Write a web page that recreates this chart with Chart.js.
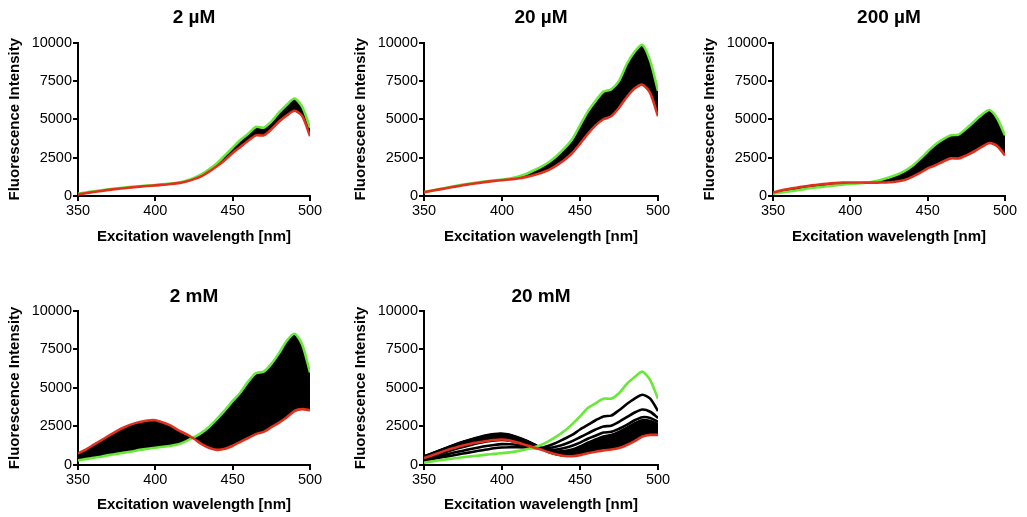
<!DOCTYPE html>
<html>
<head>
<meta charset="utf-8">
<script src="https://cdn.jsdelivr.net/npm/chart.js@4.4.1/dist/chart.umd.min.js"></script>
<style>
  html, body { margin: 0; padding: 0; background: #fff; }
  body { width: 1027px; height: 517px; position: relative; overflow: hidden; }
  .panel { position: absolute; }
</style>
</head>
<body>
<div class="panel" style="left:0px;top:0px"><canvas id="p1" width="330" height="255"></canvas></div>
<div class="panel" style="left:346px;top:0px"><canvas id="p2" width="332" height="255"></canvas></div>
<div class="panel" style="left:695px;top:0px"><canvas id="p3" width="330" height="255"></canvas></div>
<div class="panel" style="left:0px;top:262px"><canvas id="p4" width="330" height="255"></canvas></div>
<div class="panel" style="left:346px;top:262px"><canvas id="p5" width="332" height="255"></canvas></div>
<script>
// --- data (excitation scans, start = green, end = red) ---
const wavelengths = [350, 355, 360, 365, 370, 375, 380, 385, 390, 395, 400, 405, 410, 415, 420, 425, 430, 435, 440, 445, 450, 455, 460, 465, 470, 475, 480, 485, 490, 495, 500];
const xTicks = [350, 400, 450, 500];
const yTicks = [0, 2500, 5000, 7500, 10000];
const panelTitles = ['2 µM', '20 µM', '200 µM', '2 mM', '20 mM'];

const green2uM = [150, 230, 310, 380, 440, 500, 550, 600, 640, 680, 720, 760, 810, 880, 1000, 1180, 1420, 1750, 2150, 2650, 3150, 3650, 4050, 4500, 4450, 4850, 5450, 5950, 6350, 5800, 4450];
const red2uM = [100, 180, 260, 330, 400, 460, 510, 560, 610, 650, 690, 730, 780, 840, 950, 1100, 1300, 1600, 1950, 2350, 2800, 3200, 3600, 3950, 3950, 4350, 4850, 5250, 5550, 5200, 3900];

const green20uM = [250, 350, 450, 550, 650, 740, 820, 890, 960, 1020, 1070, 1130, 1250, 1420, 1650, 1900, 2200, 2600, 3100, 3700, 4600, 5500, 6200, 6800, 6950, 7500, 8600, 9400, 9850, 8800, 6850];
const red20uM = [250, 340, 430, 520, 610, 700, 780, 850, 920, 980, 1030, 1080, 1140, 1230, 1350, 1500, 1700, 2000, 2350, 2800, 3400, 4050, 4600, 5000, 5200, 5750, 6450, 7000, 7250, 6700, 5200];

const green200uM = [150, 220, 290, 360, 450, 520, 580, 630, 690, 740, 780, 820, 870, 950, 1060, 1200, 1380, 1620, 1950, 2400, 2900, 3350, 3700, 3950, 4000, 4400, 4850, 5300, 5600, 5050, 3950];
const red200uM = [230, 350, 450, 540, 620, 690, 750, 800, 840, 870, 880, 880, 870, 870, 880, 900, 950, 1050, 1250, 1500, 1800, 2000, 2250, 2450, 2450, 2650, 2900, 3200, 3450, 3250, 2650];

const green2mM = [300, 380, 460, 540, 640, 720, 800, 880, 980, 1050, 1120, 1180, 1250, 1350, 1550, 1800, 2100, 2500, 3000, 3550, 4150, 4700, 5400, 5950, 6050, 6550, 7250, 8050, 8500, 7800, 6000];
const red2mM = [750, 1000, 1300, 1600, 1900, 2200, 2450, 2650, 2780, 2880, 2900, 2750, 2550, 2250, 2000, 1700, 1350, 1100, 980, 1050, 1250, 1500, 1750, 2000, 2150, 2450, 2750, 3100, 3500, 3620, 3550];

const green20mM = [150, 230, 310, 380, 440, 500, 560, 610, 670, 720, 770, 820, 900, 1000, 1130, 1300, 1550, 1850, 2200, 2650, 3150, 3700, 4000, 4300, 4300, 4650, 5250, 5700, 6050, 5500, 4300];
const red20mM = [450, 620, 800, 980, 1120, 1260, 1380, 1470, 1550, 1620, 1650, 1580, 1450, 1300, 1150, 1000, 820, 680, 580, 570, 640, 760, 860, 950, 1000, 1100, 1300, 1550, 1850, 1950, 1950];
const black20mM_1 = [300, 380, 470, 560, 650, 740, 830, 920, 1000, 1080, 1130, 1150, 1150, 1130, 1100, 1100, 1250, 1450, 1700, 1950, 2300, 2600, 2900, 3150, 3200, 3550, 3950, 4300, 4550, 4300, 3500];
const black20mM_2 = [350, 460, 580, 700, 820, 930, 1040, 1140, 1230, 1300, 1350, 1340, 1300, 1230, 1150, 1080, 1100, 1200, 1350, 1550, 1800, 2050, 2300, 2500, 2550, 2800, 3100, 3400, 3600, 3450, 3050];
const black20mM_3 = [420, 560, 720, 880, 1030, 1170, 1300, 1420, 1520, 1590, 1620, 1570, 1460, 1330, 1180, 1060, 990, 1000, 1100, 1250, 1450, 1700, 1900, 2100, 2150, 2350, 2600, 2900, 3100, 3050, 2800];
const black20mM_4 = [480, 640, 810, 990, 1160, 1310, 1450, 1570, 1680, 1760, 1790, 1730, 1600, 1440, 1260, 1080, 940, 870, 900, 1000, 1200, 1450, 1650, 1850, 1950, 2150, 2400, 2700, 2900, 2850, 2650];
const black20mM_5 = [520, 690, 870, 1060, 1240, 1400, 1550, 1680, 1790, 1870, 1900, 1840, 1700, 1520, 1310, 1090, 890, 780, 760, 850, 1050, 1250, 1450, 1650, 1750, 1950, 2200, 2500, 2750, 2700, 2550];
const black20mM_6 = [550, 730, 920, 1110, 1300, 1470, 1620, 1760, 1880, 1960, 1990, 1920, 1770, 1580, 1350, 1100, 860, 720, 680, 750, 920, 1100, 1300, 1480, 1580, 1780, 2020, 2300, 2550, 2520, 2400];
const black20mM_7 = [560, 750, 940, 1140, 1330, 1500, 1660, 1800, 1920, 2000, 2030, 1960, 1800, 1600, 1360, 1100, 850, 700, 640, 680, 820, 980, 1150, 1320, 1420, 1620, 1850, 2100, 2350, 2350, 2250];
const black20mM_8 = [540, 730, 920, 1120, 1300, 1470, 1630, 1770, 1890, 1970, 2000, 1930, 1770, 1570, 1340, 1090, 840, 690, 610, 620, 720, 870, 1010, 1150, 1220, 1400, 1620, 1880, 2150, 2200, 2100];

const GREEN = '#6ae83a';
const RED = '#e0301e';
const FONT = "'Liberation Sans', Arial, Helvetica, sans-serif";
const BAND = { target: 0, above: '#000', below: '#000' };

function pts(values) {
    return wavelengths.map((w, i) => ({ x: w, y: values[i] }));
}

function edgeLine(values, color, fill) {
    return { data: pts(values), borderColor: color, borderWidth: 2.6, fill: fill || false, backgroundColor: '#000' };
}

function blackLine(values, fill) {
    return { data: pts(values), borderColor: '#000', borderWidth: 2.6, fill: fill || false, backgroundColor: '#000' };
}

// row 1 and row 2 sit at slightly different distances from their titles
function makePanel(id, title, datasets, row) {
    const pad = row === 1 ? { t: 6.5, b: 13.2, xh: 59, xb: 9.3 } : { t: 23.7, b: 2.2, xh: 52, xb: 3 };
    new Chart(document.getElementById(id), {
        type: 'line',
        data: { datasets },
        options: {
            responsive: false,
            animation: false,
            layout: { padding: { left: 0, right: 20, top: 0, bottom: 0 } },
            elements: { point: { radius: 0 }, line: { tension: 0.25 } },
            plugins: {
                legend: { display: false },
                tooltip: { enabled: false },
                title: {
                    display: true, text: title, fullSize: false, color: '#000',
                    font: { family: FONT, size: 19, weight: 'bold' },
                    padding: { top: pad.t, bottom: pad.b }
                }
            },
            scales: {
                x: {
                    type: 'linear', min: 350, max: 500,
                    afterBuildTicks: s => { s.ticks = xTicks.map(v => ({ value: v })); },
                    afterFit: s => { s.height = pad.xh; },
                    border: { display: true, color: '#000', width: 2 },
                    grid: { display: true, drawOnChartArea: false, drawTicks: true, tickLength: 5, color: '#000', lineWidth: 2 },
                    ticks: { color: '#000', padding: 1, maxRotation: 0, callback: v => String(v), font: { family: FONT, size: 14.5 } },
                    title: { display: true, text: 'Excitation wavelength [nm]', color: '#000', font: { family: FONT, size: 15, weight: 'bold' }, padding: { top: 0, bottom: pad.xb } }
                },
                y: {
                    min: 0, max: 10000,
                    afterBuildTicks: s => { s.ticks = yTicks.map(v => ({ value: v })); },
                    afterFit: s => { s.width = 78; },
                    border: { display: true, color: '#000', width: 2 },
                    grid: { display: true, drawOnChartArea: false, drawTicks: true, tickLength: 5, color: '#000', lineWidth: 2 },
                    ticks: { color: '#000', padding: 1, callback: v => String(v), font: { family: FONT, size: 14.5 } },
                    title: { display: true, text: 'Fluorescence Intensity', color: '#000', font: { family: FONT, size: 15, weight: 'bold' }, padding: { top: 6, bottom: 0 } }
                }
            }
        }
    });
}

// red first so it sits on top; green fills the band down to the red trace
makePanel('p1', panelTitles[0], [edgeLine(red2uM, RED), edgeLine(green2uM, GREEN, BAND)], 1);
makePanel('p2', panelTitles[1], [edgeLine(red20uM, RED), edgeLine(green20uM, GREEN, BAND)], 1);
makePanel('p3', panelTitles[2], [edgeLine(red200uM, RED), edgeLine(green200uM, GREEN, BAND)], 1);
makePanel('p4', panelTitles[3], [edgeLine(red2mM, RED), edgeLine(green2mM, GREEN, BAND)], 2);
makePanel('p5', panelTitles[4], [
    edgeLine(red20mM, RED),
    edgeLine(green20mM, GREEN),
    blackLine(black20mM_1),
    blackLine(black20mM_2),
    blackLine(black20mM_3),
    blackLine(black20mM_4, BAND),
    blackLine(black20mM_5),
    blackLine(black20mM_6),
    blackLine(black20mM_7),
    blackLine(black20mM_8)
], 2);
</script>
</body>
</html>
